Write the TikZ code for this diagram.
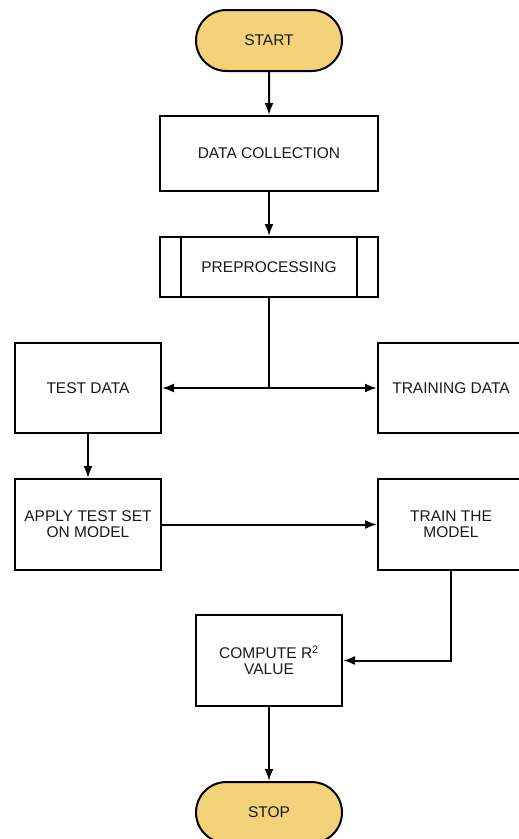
\documentclass[tikz,border=0pt]{standalone}
\usepackage{fontspec}
\setmainfont{Liberation Sans}
\usetikzlibrary{arrows.meta,shapes.misc}
\definecolor{termfill}{RGB}{243,210,122}
\begin{document}
\begin{tikzpicture}[x=1pt,y=-1pt,
  font=\fontsize{15.5}{16}\selectfont,
  every node/.style={text=black!90},
  box/.style={draw=black,line width=2pt,rectangle,inner sep=0pt},
  term/.style={draw=black,line width=2pt,rounded rectangle,fill=termfill,minimum width=146pt,minimum height=61pt,inner sep=0pt},
  arr/.style={line width=2pt,-{Latex[length=12pt,width=9pt]}}]
\useasboundingbox (0,0) rectangle (519,839);
\clip (0,0) rectangle (519,839);
\fill[white] (0,0) rectangle (519,839);
\node[term] (start) at (269,40.5) {START};
\node[box,minimum width=218pt,minimum height=75pt] (dc) at (269,153.5) {DATA COLLECTION};
\node[box,minimum width=218pt,minimum height=60pt] (pre) at (269,267) {PREPROCESSING};
\draw[line width=2pt] ([xshift=22pt]pre.north west) -- ([xshift=22pt]pre.south west);
\draw[line width=2pt] ([xshift=-22pt]pre.north east) -- ([xshift=-22pt]pre.south east);
\node[box,minimum width=146pt,minimum height=90pt] (test) at (88,388) {TEST DATA};
\node[box,minimum width=146pt,minimum height=90pt] (train) at (451,388) {TRAINING DATA};
\node[box,minimum width=146pt,minimum height=91pt,align=center] (apply) at (88,524.5) {APPLY TEST SET\\ON MODEL};
\node[box,minimum width=146pt,minimum height=91pt,align=center] (tm) at (451,524.5) {TRAIN THE\\MODEL};
\node[box,minimum width=146pt,minimum height=91pt,align=center] (comp) at (269,660.5) {COMPUTE R\textsuperscript{2}\\VALUE};
\node[term] (stop) at (269,812.5) {STOP};
\coordinate (split) at (269,388);
\draw[arr] (start) -- (dc);
\draw[arr] (dc) -- (pre);
\draw[line width=2pt] (pre.south) -- (split);
\draw[arr] (split) -- (test.east);
\draw[arr] (split) -- (train.west);
\draw[arr] (test) -- (apply);
\draw[arr] (apply) -- (tm);
\draw[arr] (tm.south) |- (comp.east);
\draw[arr] (comp) -- (stop);
\end{tikzpicture}
\end{document}
